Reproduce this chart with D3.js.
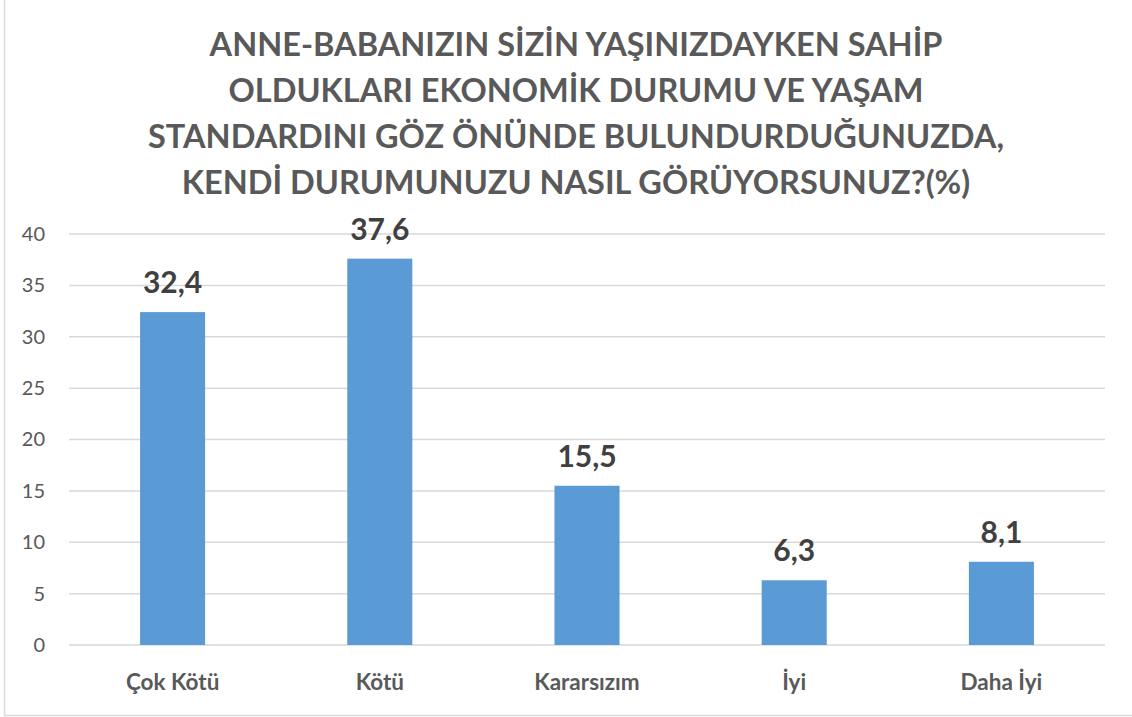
<!DOCTYPE html>
<html>
<head>
<meta charset="utf-8">
<script src="https://cdn.jsdelivr.net/npm/d3@7"></script>
<style>
  body { margin: 0; background: #fff; }
  svg { display: block; }
</style>
</head>
<body>
<div id="chart"></div>
<script>
// chart data
const categories = ["Çok Kötü", "Kötü", "Kararsızım", "İyi", "Daha İyi"];
const values = [32.4, 37.6, 15.5, 6.3, 8.1];
const yTicks = [0, 5, 10, 15, 20, 25, 30, 35, 40];
const titleLines = [
    "ANNE-BABANIZIN SİZİN YAŞINIZDAYKEN SAHİP",
    "OLDUKLARI EKONOMİK DURUMU VE YAŞAM",
    "STANDARDINI GÖZ ÖNÜNDE BULUNDURDUĞUNUZDA,",
    "KENDİ DURUMUNUZU NASIL GÖRÜYORSUNUZ?(%)"
];

const W = 1132, H = 717;
const margin = {top: 234, right: 27, bottom: 72, left: 69};
const width = W - margin.left - margin.right;
const height = H - margin.top - margin.bottom;
const font = "Lato, 'Open Sans', sans-serif";

const svg = d3.select("#chart")
    .append("svg")
    .attr("width", W)
    .attr("height", H);

// outer border
svg.append("rect")
    .attr("x", 4.5).attr("y", -5)
    .attr("width", W + 10).attr("height", 720.5)
    .attr("fill", "none")
    .attr("stroke", "#d9d9d9")
    .attr("stroke-width", 1.5);

// title
svg.append("text")
    .attr("text-anchor", "middle")
    .attr("font-family", font)
    .attr("font-weight", "bold")
    .attr("font-size", 32.5)
    .attr("fill", "#595959")
    .selectAll("tspan")
    .data(titleLines)
    .join("tspan")
    .attr("x", 576)
    .attr("y", (d, i) => 56 + i * 46)
    .text(d => d);

const g = svg.append("g")
    .attr("transform", `translate(${margin.left},${margin.top})`);

const x = d3.scaleBand()
    .domain(categories)
    .range([0, width])
    .padding(0);

const y = d3.scaleLinear()
    .domain([0, 40])
    .range([height, 0]);

const barW = x.bandwidth() * 0.314;

// gridlines
g.append("g")
    .selectAll("line")
    .data(yTicks)
    .join("line")
    .attr("x1", 0)
    .attr("x2", width)
    .attr("y1", d => y(d))
    .attr("y2", d => y(d))
    .attr("stroke", "#d9d9d9")
    .attr("stroke-width", 1.5);

// y axis labels
const yAxis = g.append("g")
    .call(d3.axisLeft(y).tickValues(yTicks).tickSize(0).tickPadding(24));
yAxis.select(".domain").remove();
yAxis.selectAll("text")
    .attr("font-family", font)
    .attr("font-size", 20)
    .attr("fill", "#595959");

// bars
g.append("g")
    .selectAll("rect")
    .data(values)
    .join("rect")
    .attr("x", (d, i) => x(categories[i]) + (x.bandwidth() - barW) / 2)
    .attr("y", d => y(d))
    .attr("width", barW)
    .attr("height", d => height - y(d))
    .attr("fill", "#5b9bd5");

// data labels
g.append("g")
    .selectAll("text")
    .data(values)
    .join("text")
    .attr("x", (d, i) => x(categories[i]) + x.bandwidth() / 2)
    .attr("y", d => y(d) - 19)
    .attr("text-anchor", "middle")
    .attr("font-family", font)
    .attr("font-weight", "bold")
    .attr("font-size", 30)
    .attr("fill", "#404040")
    .text(d => d.toString().replace(".", ","));

// x axis labels
const xAxis = g.append("g")
    .attr("transform", `translate(0,${height})`)
    .call(d3.axisBottom(x).tickSize(0).tickPadding(29));
xAxis.select(".domain").remove();
xAxis.selectAll("text")
    .attr("font-family", font)
    .attr("font-weight", "bold")
    .attr("font-size", 22.5)
    .attr("fill", "#595959");
</script>
</body>
</html>
